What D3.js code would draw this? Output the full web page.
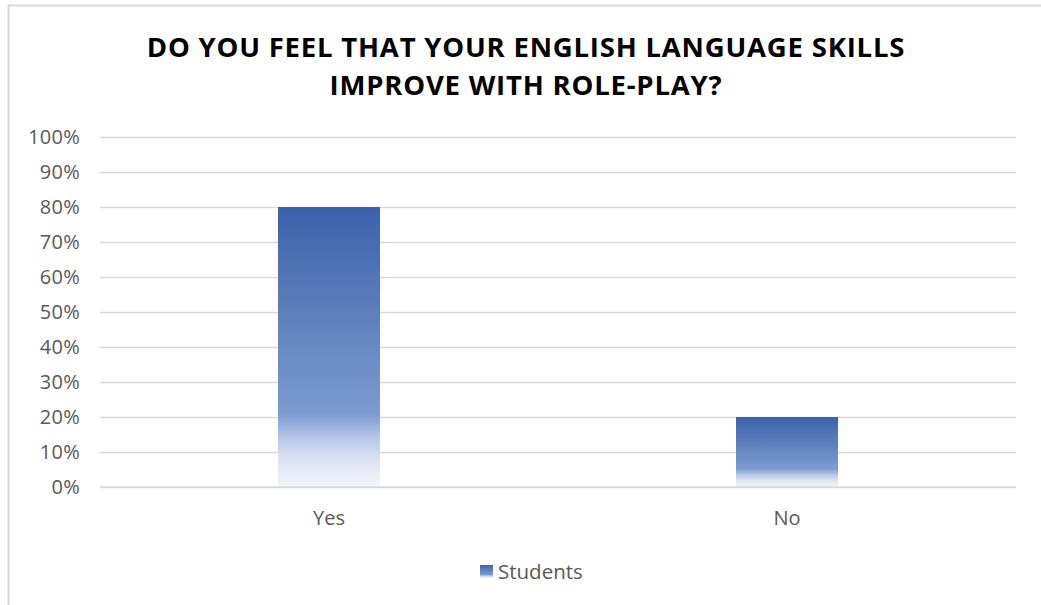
<!DOCTYPE html>
<html><head><meta charset="utf-8">
<script src="https://cdn.jsdelivr.net/npm/d3@7"></script>
<style>body{margin:0;background:#fff;}svg{display:block;}</style>
</head><body>
<script>
const categories = ["Yes", "No"];
const seriesName = "Students";
const values = [0.80, 0.20];
const tickValues = [0,0.1,0.2,0.3,0.4,0.5,0.6,0.7,0.8,0.9,1.0];
const titleLines = ["DO YOU FEEL THAT YOUR ENGLISH LANGUAGE SKILLS", "IMPROVE WITH ROLE-PLAY?"];

(function(){
const W = 1041, H = 605;
const svg = d3.select("body").append("svg").attr("width", W).attr("height", H);
const defs = svg.append("defs");
const grad = defs.append("linearGradient").attr("id","barGrad")
  .attr("x1",0).attr("y1",0).attr("x2",0).attr("y2",1);
[[0,"#3A62AB"],[0.45,"#6485BE"],[0.74,"#7C9BD1"],[0.82,"#B4C5E6"],[0.9,"#DCE3F3"],[1,"#F3F5FB"]]
  .forEach(([o,c])=>grad.append("stop").attr("offset",o).attr("stop-color",c));

svg.append("line").attr("x1",8).attr("x2",W).attr("y1",5.5).attr("y2",5.5).attr("stroke","#d9d9d9").attr("stroke-width",2);
svg.append("line").attr("x1",8.5).attr("x2",8.5).attr("y1",5).attr("y2",H).attr("stroke","#d9d9d9").attr("stroke-width",2);

const pL = 100, pR = 1016, pT = 137, pB = 487;
const y = d3.scaleLinear().domain([0,1]).range([pB, pT]);
const x = d3.scaleBand().domain(categories).range([pL, pR]).paddingInner(0).paddingOuter(0);

const yAxis = d3.axisLeft(y).tickValues(tickValues).tickSize(-(pR-pL)).tickFormat(d3.format(".0%")).tickPadding(20);
const gy = svg.append("g").attr("transform",`translate(${pL},0)`).call(yAxis);
gy.select(".domain").remove();
gy.selectAll(".tick line").attr("stroke","#d9d9d9").attr("stroke-width",1.3);
gy.selectAll(".tick text").attr("fill","#595959").attr("font-family","'Open Sans', sans-serif").attr("font-size",20).attr("letter-spacing","0.3");

const barW = 102;
svg.append("g").selectAll("rect").data(values).join("rect")
  .attr("x",(d,i)=>x(categories[i]) + x.bandwidth()/2 - barW/2)
  .attr("y",d=>y(d)).attr("width",barW).attr("height",d=>pB-y(d))
  .attr("fill","url(#barGrad)");

svg.append("line").attr("x1",pL).attr("x2",pR).attr("y1",pB).attr("y2",pB).attr("stroke","#d9d9d9").attr("stroke-width",1.5);

const xAxis = d3.axisBottom(x).tickSize(0).tickPadding(24);
const gx = svg.append("g").attr("transform",`translate(0,${pB})`).call(xAxis);
gx.select(".domain").remove();
gx.selectAll(".tick text").attr("fill","#595959").attr("font-family","'Open Sans', sans-serif").attr("font-size",20);

svg.append("g").selectAll("text").data(titleLines).join("text")
  .attr("x",(pL+pR)/2 - 32).attr("y",(d,i)=>57+i*38)
  .attr("text-anchor","middle").attr("font-family","'Open Sans', sans-serif").attr("font-weight","bold")
  .attr("font-size",27.5).attr("fill","#000").attr("letter-spacing","0.8")
  .text(d=>d);

const lg = svg.append("g").attr("transform","translate(480,565)");
lg.append("rect").attr("width",13).attr("height",13).attr("fill","url(#barGrad)");
lg.append("text").attr("x",18).attr("y",14).attr("fill","#595959").attr("font-family","'Open Sans', sans-serif").attr("font-size",20.5).text(seriesName);
})();
</script>
</body></html>
